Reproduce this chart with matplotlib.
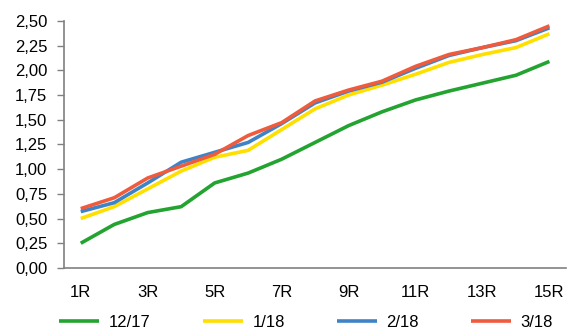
import matplotlib
matplotlib.use("Agg")
import matplotlib.pyplot as plt
from matplotlib.ticker import FuncFormatter

# -----------------------------
# Data
# -----------------------------
categories = [f"{i}R" for i in range(1, 16)]
series_names = ["12/17", "1/18", "2/18", "3/18"]
s_12_17 = [0.25, 0.44, 0.56, 0.62, 0.86, 0.96, 1.10, 1.27, 1.44, 1.58, 1.70, 1.79, 1.87, 1.95, 2.09]
s_1_18 = [0.50, 0.62, 0.80, 0.98, 1.12, 1.19, 1.40, 1.61, 1.75, 1.85, 1.96, 2.08, 2.16, 2.23, 2.37]
s_2_18 = [0.57, 0.66, 0.86, 1.07, 1.17, 1.27, 1.46, 1.67, 1.79, 1.88, 2.02, 2.15, 2.23, 2.30, 2.43]
s_3_18 = [0.60, 0.71, 0.91, 1.03, 1.15, 1.34, 1.47, 1.69, 1.80, 1.89, 2.04, 2.16, 2.23, 2.31, 2.45]
colors = ["#23A32F", "#FFDF00", "#3F83C7", "#EE5B3D"]

plt.rcParams['font.family'] = ['Liberation Sans', 'DejaVu Sans']

# -----------------------------
# Plot
# -----------------------------
fig = plt.figure(figsize=(5.69, 3.32), dpi=100)
ax = fig.add_axes([0.1125, 0.193, 0.8825, 0.744])

x = list(range(len(categories)))
for vals, name, c in zip([s_12_17, s_1_18, s_2_18, s_3_18], series_names, colors):
    ax.plot(x, vals, color=c, lw=2.6, label=name, solid_capstyle="butt")

ax.set_xlim(-0.5, len(categories) - 0.5)
ax.set_ylim(0, 2.5)
ax.set_yticks([i * 0.25 for i in range(11)])
ax.yaxis.set_major_formatter(FuncFormatter(lambda v, p: f"{v:.2f}".replace(".", ",")))
ax.set_xticks(x[::2])
ax.set_xticklabels(categories[::2])

for side in ["top", "right"]:
    ax.spines[side].set_visible(False)
for side in ["left", "bottom"]:
    ax.spines[side].set_color("#808080")
    ax.spines[side].set_linewidth(1.2)

ax.tick_params(axis="y", length=5, width=1, color="#808080", pad=7, labelsize=12)
ax.tick_params(axis="x", length=0, pad=12, labelsize=12)

fig.legend(loc="center", bbox_to_anchor=(0.538, 0.03), ncol=4, frameon=False,
           fontsize=12, handlelength=2.4, columnspacing=3.1, handletextpad=0.6,
           borderpad=0, borderaxespad=0)

fig.savefig("out.png", dpi=100)
